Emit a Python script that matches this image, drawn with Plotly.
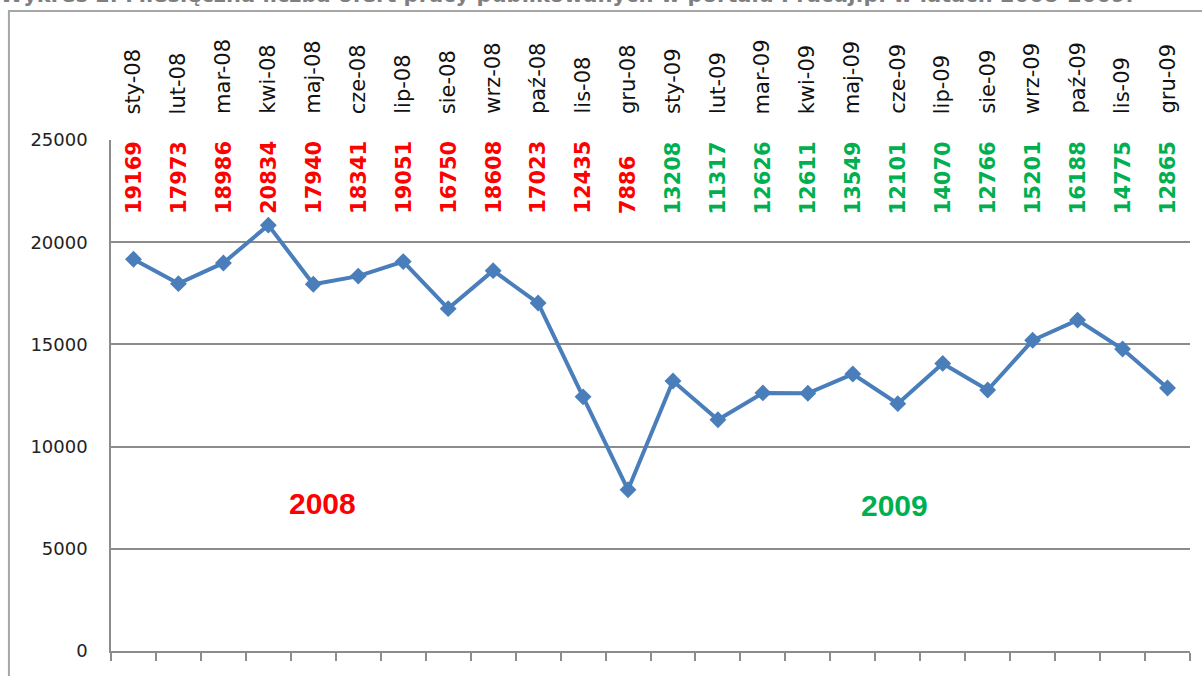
import plotly.graph_objects as go

# ---- data ----
months = ["sty-08", "lut-08", "mar-08", "kwi-08", "maj-08", "cze-08", "lip-08", "sie-08",
          "wrz-08", "paź-08", "lis-08", "gru-08",
          "sty-09", "lut-09", "mar-09", "kwi-09", "maj-09", "cze-09", "lip-09", "sie-09",
          "wrz-09", "paź-09", "lis-09", "gru-09"]
offers = [19169, 17973, 18986, 20834, 17940, 18341, 19051, 16750, 18608, 17023, 12435, 7886,
          13208, 11317, 12626, 12611, 13549, 12101, 14070, 12766, 15201, 16188, 14775, 12865]
years = ["2008"] * 12 + ["2009"] * 12
y_ticks = [0, 5000, 10000, 15000, 20000, 25000]
title_text = "Wykres 2. Miesięczna liczba ofert pracy publikowanych w portalu Pracuj.pl w latach 2008-2009."

year_colors = {"2008": "#FF0000", "2009": "#00B050"}

fig = go.Figure()
fig.add_trace(go.Scatter(
    x=months, y=offers, mode="lines+markers",
    line=dict(color="#4A7EBB", width=4),
    marker=dict(symbol="diamond", size=13, color="#4A7EBB"),
    showlegend=False, hoverinfo="x+y",
))

annotations = []
# category labels above the plot
for m in months:
    annotations.append(dict(
        x=m, xref="x", y=1.047, yref="paper", text=m, showarrow=False,
        textangle=-90, xanchor="center", yanchor="bottom",
        font=dict(family="DejaVu Sans", size=21, color="#111111"),
    ))
# value labels inside top of plot
for m, v, yr in zip(months, offers, years):
    annotations.append(dict(
        x=m, xref="x", y=0.851, yref="paper", text=str(v), showarrow=False,
        textangle=-90, xanchor="center", yanchor="bottom",
        font=dict(family="DejaVu Sans", size=21, color=year_colors[yr], weight="bold"),
    ))
# year labels
annotations.append(dict(x=0.1956, y=0.288, xref="paper", yref="paper", text="2008",
                        xanchor="center", yanchor="middle",
                        showarrow=False, font=dict(family="Liberation Sans", size=30,
                                                   color=year_colors["2008"], weight="bold")))
annotations.append(dict(x=0.7257, y=0.284, xref="paper", yref="paper", text="2009",
                        xanchor="center", yanchor="middle",
                        showarrow=False, font=dict(family="Liberation Sans", size=30,
                                                   color=year_colors["2009"], weight="bold")))
# clipped title at the very top
annotations.append(dict(x=-0.105, y=1.2566, xref="paper", yref="paper", text=title_text,
                        showarrow=False, xanchor="left", yanchor="bottom",
                        font=dict(family="DejaVu Sans", size=21, color="#7F7F7F", weight="bold")))

fig.update_layout(
    width=1202, height=676,
    margin=dict(l=111, r=12, t=140, b=25),
    paper_bgcolor="white", plot_bgcolor="white",
    annotations=annotations,
    shapes=[dict(type="rect", xref="paper", yref="paper",
                 x0=-0.0946, x1=1.05, y0=-0.2, y1=1.2524,
                 line=dict(color="#A6A6A6", width=2), layer="below")],
    xaxis=dict(
        type="category", range=[-0.5, 23.5], showticklabels=False,
        ticks="outside", tickson="boundaries", ticklen=8, tickcolor="#8C8C8C", tickwidth=1.5,
        showline=True, linecolor="#8C8C8C", linewidth=1.5, showgrid=False, zeroline=False,
    ),
    yaxis=dict(
        range=[0, 25000], tickvals=y_ticks, ticktext=[str(t) for t in y_ticks],
        ticks="outside", ticklen=18, tickcolor="rgba(0,0,0,0)",
        tickfont=dict(family="DejaVu Sans", size=18, color="#222222"),
        showline=True, linecolor="#8C8C8C", linewidth=1.5,
        showgrid=True, gridcolor="#8C8C8C", gridwidth=1.5, zeroline=False,
    ),
)

fig.write_html("out.html", config={"displayModeBar": False},
               post_script="document.body.style.margin='0';")
